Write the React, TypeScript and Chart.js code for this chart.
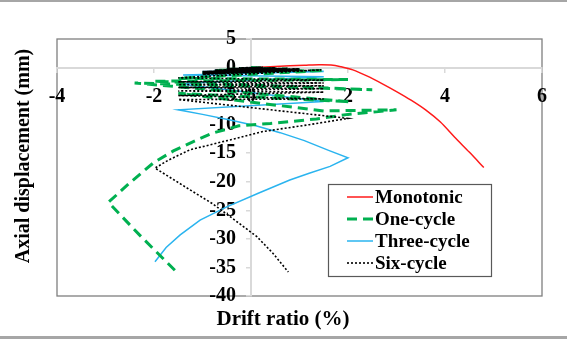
import React, { useEffect, useRef } from 'react';
import { Chart, registerables } from 'chart.js';

Chart.register(...registerables);

// ---------- data (drift ratio %, axial displacement mm) ----------
const seriesNames = ['Monotonic', 'One-cycle', 'Three-cycle', 'Six-cycle'];

const monoDrift = [0, 0.4, 0.8, 1.1, 1.4, 1.65, 1.85, 2.1, 2.4, 2.7, 3.0, 3.3, 3.6, 3.9, 4.2, 4.5, 4.8];
const monoDisp = [0, 0.15, 0.3, 0.4, 0.5, 0.45, 0.15, -0.4, -1.5, -2.8, -4.2, -5.7, -7.4, -9.5, -12.2, -14.8, -17.5];

const oneDrift = [0, 0.25, -0.25, 0.5, -0.5, 0.75, -0.75, 1.0, -1.0, 1.5, -1.5, 2.0, -2.0, 2.5, -2.4, 2.04, -1.5, 1.5, 3.0, 2.0, 1.35, 0.4, -0.25, -0.8, -1.2, -1.6, -2.0, -2.5, -2.94, -2.3, -1.57];
const oneDisp = [0, -0.1, -0.2, -0.15, -0.35, -0.25, -0.5, -0.35, -0.9, -0.5, -1.9, -2.1, -2.4, -3.9, -2.7, -6.0, -4.5, -7.6, -7.4, -8.2, -9.0, -9.8, -10.2, -11.5, -13.0, -14.6, -16.6, -20.2, -23.6, -29.3, -35.5];

const threeDrift = [0, 0.25, -0.25, 0.25, -0.25, 0.25, -0.25, 0.5, -0.5, 0.5, -0.5, 0.5, -0.5, 0.75, -0.75, 0.75, -0.75, 0.75, -0.75, 1.0, -1.0, 1.0, -1.0, 1.0, -1.0, 1.5, -1.4, 1.5, -1.5, 1.5, -1.5, -1.0, -0.43, 0.1, 0.6, 1.1, 1.6, 2.0, 1.63, 1.2, 0.8, 0.15, -0.5, -1.05, -1.46, -1.75, -1.98];
const threeDisp = [0, -0.05, -0.1, -0.08, -0.15, -0.1, -0.18, -0.12, -0.25, -0.15, -0.3, -0.2, -0.35, -0.25, -0.45, -0.3, -0.5, -0.35, -0.55, -0.4, -0.7, -0.45, -0.8, -0.5, -0.9, -0.7, -1.3, -1.6, -2.85, -5.95, -7.4, -8.2, -9.2, -10.2, -11.4, -12.8, -14.5, -15.8, -17.3, -18.5, -19.7, -22.0, -24.4, -26.7, -29.3, -31.5, -34.0];

const sixDrift = [0,
  0.25, -0.25, 0.25, -0.25, 0.25, -0.25, 0.25, -0.25, 0.25, -0.25, 0.25, -0.25,
  0.5, -0.5, 0.5, -0.5, 0.5, -0.5, 0.5, -0.5, 0.5, -0.5, 0.5, -0.5,
  0.75, -0.75, 0.75, -0.75, 0.75, -0.75, 0.75, -0.75, 0.75, -0.75, 0.75, -0.75,
  1.0, -1.0, 1.0, -1.0, 1.0, -1.0, 1.0, -1.0, 1.0, -1.0, 1.0, -1.0,
  1.45, -1.5, 1.5, -1.5, 1.5, -1.5, 1.5, -1.5, 1.5, -1.5, 1.5, -1.5, 1.5, -1.5,
  2.0, 1.2, 0.25, -0.4, -1.26, -1.7, -1.98, -1.6, -1.26, -0.8, -0.43, 0.12, 0.45, 0.77];
const sixDisp = [0,
  0.05, -0.05, 0.03, -0.08, 0.02, -0.1, 0, -0.12, -0.02, -0.14, -0.03, -0.15,
  -0.05, -0.2, -0.08, -0.25, -0.1, -0.28, -0.12, -0.3, -0.14, -0.33, -0.15, -0.35,
  -0.15, -0.45, -0.18, -0.5, -0.2, -0.55, -0.22, -0.6, -0.25, -0.62, -0.28, -0.65,
  -0.2, -0.7, -0.25, -0.8, -0.3, -0.9, -0.35, -1.0, -0.4, -1.1, -0.45, -1.2,
  -0.4, -1.8, -2.2, -2.5, -2.7, -3.0, -3.2, -3.5, -3.7, -4.1, -4.3, -4.9, -5.5, -5.6,
  -8.9, -10.0, -11.2, -12.6, -14.4, -16.2, -17.6, -19.6, -21.4, -23.8, -26.1, -29.6, -32.5, -35.8];

const xTickValues = [-4, -2, 0, 2, 4, 6];
const yTickValues = [5, 0, -5, -10, -15, -20, -25, -30, -35, -40];

const xTitle = 'Drift ratio (%)';
const yTitle = 'Axial displacement (mm)';

const FONT = "'Liberation Serif', 'Times New Roman', serif";

function zip(xs: number[], ys: number[]) {
  return xs.map((x, i) => ({ x, y: ys[i] }));
}

const decorPlugin = {
  id: 'decor',
  beforeDraw(chart: any) {
    const { ctx, chartArea: a, width, height } = chart;
    ctx.save();
    ctx.fillStyle = '#ffffff';
    ctx.fillRect(0, 0, width, height);
    ctx.fillStyle = '#a6a6a6';
    ctx.fillRect(0, 0, width, 2);
    ctx.fillRect(0, height - 3, width, 3);
    ctx.strokeStyle = '#7f7f7f';
    ctx.lineWidth = 1.3;
    ctx.strokeRect(a.left, a.top, a.right - a.left, a.bottom - a.top);
    ctx.restore();
  },
  afterDraw(chart: any) {
    const { ctx } = chart;
    ctx.save();
    // axis titles
    ctx.fillStyle = '#000';
    ctx.font = `bold 21px ${FONT}`;
    ctx.textAlign = 'center';
    ctx.textBaseline = 'middle';
    ctx.fillText(xTitle, 283, 320);
    ctx.save();
    ctx.translate(24, 156);
    ctx.rotate(-Math.PI / 2);
    ctx.font = `bold 20px ${FONT}`;
    ctx.fillText(yTitle, 0, 0);
    ctx.restore();

    // legend
    const bx = 328.5, by = 184.5, bw = 163, bh = 92;
    ctx.fillStyle = '#fff';
    ctx.fillRect(bx, by, bw, bh);
    ctx.strokeStyle = '#595959';
    ctx.lineWidth = 1.2;
    ctx.strokeRect(bx, by, bw, bh);
    const rows = [197, 219, 241, 263];
    chart.data.datasets.forEach((ds: any, i: number) => {
      const y = rows[i];
      ctx.save();
      ctx.strokeStyle = ds.borderColor;
      ctx.lineWidth = ds.borderWidth;
      ctx.setLineDash(ds.borderDash || []);
      ctx.beginPath();
      ctx.moveTo(347, y);
      ctx.lineTo(373, y);
      ctx.stroke();
      ctx.restore();
      ctx.fillStyle = '#000';
      ctx.font = `bold 19px ${FONT}`;
      ctx.textAlign = 'left';
      ctx.textBaseline = 'middle';
      ctx.fillText(seriesNames[i], 375, y + 1);
    });
    ctx.restore();
  },
};

export default function App() {
  const ref = useRef<HTMLCanvasElement | null>(null);
  useEffect(() => {
    if (!ref.current) return;
    const tickFont = { family: FONT, size: 20, weight: 'bold' as const };
    const chart = new Chart(ref.current, {
      type: 'line',
      data: {
        datasets: [
          {
            label: seriesNames[0],
            data: zip(monoDrift, monoDisp),
            borderColor: '#ff1a1a',
            borderWidth: 1.5,
            pointRadius: 0,
            tension: 0.3,
            fill: false,
            order: 3,
          },
          {
            label: seriesNames[1],
            data: zip(oneDrift, oneDisp),
            borderColor: '#00b050',
            borderWidth: 3,
            borderDash: [10, 6],
            pointRadius: 0,
            tension: 0,
            fill: false,
            order: 1,
          },
          {
            label: seriesNames[2],
            data: zip(threeDrift, threeDisp),
            borderColor: '#2ab4ef',
            borderWidth: 1.5,
            pointRadius: 0,
            tension: 0,
            fill: false,
            order: 2,
          },
          {
            label: seriesNames[3],
            data: zip(sixDrift, sixDisp),
            borderColor: '#000000',
            borderWidth: 1.6,
            borderDash: [2, 2],
            pointRadius: 0,
            tension: 0,
            fill: false,
            order: 0,
          },
        ],
      },
      options: {
        responsive: false,
        animation: false,
        parsing: false as any,
        layout: { padding: { left: 57, right: 25, top: 39, bottom: 43 } },
        plugins: { legend: { display: false }, tooltip: { enabled: false } },
        scales: {
          x: {
            type: 'linear',
            position: { y: 0 } as any,
            min: xTickValues[0],
            max: xTickValues[xTickValues.length - 1],
            ticks: {
              stepSize: xTickValues[1] - xTickValues[0],
              font: tickFont,
              color: '#000',
              padding: 13,
              maxRotation: 0,
              minRotation: 0,
              autoSkip: false,
            },
            grid: { display: true, drawOnChartArea: false, drawTicks: true, tickLength: 4, color: '#d9d9d9', lineWidth: 1.5 },
            border: { display: true, color: '#d9d9d9', width: 2 },
          },
          y: {
            type: 'linear',
            position: { x: 0 } as any,
            min: yTickValues[yTickValues.length - 1],
            max: yTickValues[0],
            ticks: {
              stepSize: yTickValues[0] - yTickValues[1],
              font: tickFont,
              color: '#000',
              padding: 10,
              autoSkip: false,
              callback: (v: any) => `${v}   `,
            },
            grid: { display: true, drawOnChartArea: false, drawTicks: true, tickLength: 4, color: '#d9d9d9', lineWidth: 1.5 },
            border: { display: true, color: '#d9d9d9', width: 2 },
          },
        },
      },
      plugins: [decorPlugin],
    });
    return () => chart.destroy();
  }, []);
  return (
    <div style={{ position: 'absolute', left: 0, top: 0, width: 567, height: 339 }}>
      <canvas ref={ref} width={567} height={339} style={{ display: 'block', width: 567, height: 339 }} />
    </div>
  );
}
